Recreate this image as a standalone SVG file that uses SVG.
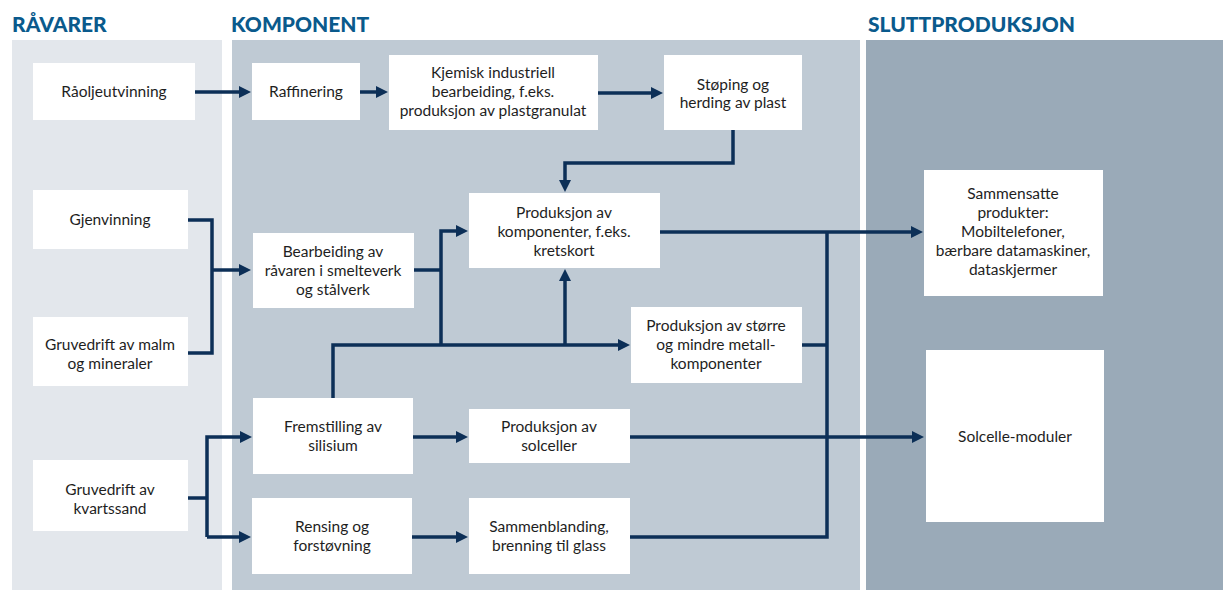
<svg xmlns="http://www.w3.org/2000/svg" width="1223" height="590" viewBox="0 0 1223 590">
<style>
.hdr{font-family:Lato,"Open Sans",sans-serif;font-weight:900;font-size:21px;fill:#0a5a8c}
.box{fill:#ffffff}
.t{font-family:Lato,"Liberation Sans",sans-serif;font-size:15.5px;fill:#1e1e1e;text-anchor:middle}
.c{fill:none;stroke:#0c2f57;stroke-width:3.5;stroke-linejoin:miter}
</style>
<defs>
<marker id="arr" markerUnits="userSpaceOnUse" markerWidth="12" markerHeight="12" refX="8" refY="6" orient="auto">
<path d="M0,0 L12,6 L0,12 z" fill="#0c2f57"/>
</marker>
</defs>
<rect width="1223" height="590" fill="#ffffff"/>
<g id="panels">
<rect x="12" y="40" width="210" height="550" fill="#e3e7ec"/>
<rect x="232" y="40" width="628" height="550" fill="#bfcad4"/>
<rect x="866" y="40" width="357" height="550" fill="#9aaab8"/>
<text class="hdr" x="12" y="32">RÅVARER</text>
<text class="hdr" x="231" y="32">KOMPONENT</text>
<text class="hdr" x="868" y="32">SLUTTPRODUKSJON</text>
</g>
<g id="connectors">
<path class="c" d="M195,92 H247" marker-end="url(#arr)"/>
<path class="c" d="M360,92 H384" marker-end="url(#arr)"/>
<path class="c" d="M598,93 H659" marker-end="url(#arr)"/>
<path class="c" d="M733,130 V163 H565 V188" marker-end="url(#arr)"/>
<path class="c" d="M188,220 H212 V353 H188"/>
<path class="c" d="M212,270 H247" marker-end="url(#arr)"/>
<path class="c" d="M413,270 H441"/>
<path class="c" d="M441,345 V231 H464" marker-end="url(#arr)"/>
<path class="c" d="M333,398 V345 H626" marker-end="url(#arr)"/>
<path class="c" d="M565,345 V273" marker-end="url(#arr)"/>
<path class="c" d="M660,232 H919" marker-end="url(#arr)"/>
<path class="c" d="M802,345 H827"/>
<path class="c" d="M827,232 V537 H630"/>
<path class="c" d="M630,437 H920" marker-end="url(#arr)"/>
<path class="c" d="M188,498 H207"/>
<path class="c" d="M207,537 V437 H248" marker-end="url(#arr)"/>
<path class="c" d="M207,537 H247" marker-end="url(#arr)"/>
<path class="c" d="M413,437 H464" marker-end="url(#arr)"/>
<path class="c" d="M412,537 H464" marker-end="url(#arr)"/>
</g>
<g id="n-raolje"><rect class="box" x="33" y="63" width="162" height="57"/><text class="t" x="114" y="97">Råoljeutvinning</text></g>
<g id="n-gjenvinning"><rect class="box" x="33" y="190" width="155" height="59"/><text class="t" x="110" y="225">Gjenvinning</text></g>
<g id="n-gruvemalm"><rect class="box" x="33" y="317" width="155" height="69"/><text class="t" x="110" y="350">Gruvedrift av malm</text><text class="t" x="110" y="369">og mineraler</text></g>
<g id="n-kvartssand"><rect class="box" x="33" y="460" width="155" height="71"/><text class="t" x="110" y="495">Gruvedrift av</text><text class="t" x="110" y="514">kvartssand</text></g>
<g id="n-raffinering"><rect class="box" x="252" y="63" width="108" height="57"/><text class="t" x="306" y="97">Raffinering</text></g>
<g id="n-kjemisk"><rect class="box" x="389" y="55" width="209" height="75"/><text class="t" x="493" y="78">Kjemisk industriell</text><text class="t" x="493" y="97">bearbeiding, f.eks.</text><text class="t" x="493" y="116">produksjon av plastgranulat</text></g>
<g id="n-stoping"><rect class="box" x="664" y="55" width="138" height="75"/><text class="t" x="733" y="90">Støping og</text><text class="t" x="733" y="108">herding av plast</text></g>
<g id="n-komponenter"><rect class="box" x="469" y="193" width="191" height="75"/><text class="t" x="564" y="218">Produksjon av</text><text class="t" x="564" y="237">komponenter, f.eks.</text><text class="t" x="564" y="256">kretskort</text></g>
<g id="n-bearbeiding"><rect class="box" x="253" y="233" width="161" height="75"/><text class="t" x="333" y="257">Bearbeiding av</text><text class="t" x="333" y="276">råvaren i smelteverk</text><text class="t" x="333" y="295">og stålverk</text></g>
<g id="n-metall"><rect class="box" x="631" y="307" width="171" height="76"/><text class="t" x="716" y="331">Produksjon av større</text><text class="t" x="716" y="350">og mindre metall-</text><text class="t" x="716" y="369">komponenter</text></g>
<g id="n-silisium"><rect class="box" x="253" y="398" width="160" height="76"/><text class="t" x="333" y="432">Fremstilling av</text><text class="t" x="333" y="451">silisium</text></g>
<g id="n-solceller"><rect class="box" x="469" y="409" width="161" height="54"/><text class="t" x="549" y="432">Produksjon av</text><text class="t" x="549" y="451">solceller</text></g>
<g id="n-rensing"><rect class="box" x="252" y="498" width="160" height="76"/><text class="t" x="332" y="532">Rensing og</text><text class="t" x="332" y="551">forstøvning</text></g>
<g id="n-sammenblanding"><rect class="box" x="469" y="498" width="161" height="76"/><text class="t" x="549" y="532">Sammenblanding,</text><text class="t" x="549" y="551">brenning til glass</text></g>
<g id="n-sammensatte"><rect class="box" x="924" y="170" width="179" height="126"/><text class="t" x="1013" y="199">Sammensatte</text><text class="t" x="1013" y="218">produkter:</text><text class="t" x="1013" y="237">Mobiltelefoner,</text><text class="t" x="1013" y="256">bærbare datamaskiner,</text><text class="t" x="1013" y="275">dataskjermer</text></g>
<g id="n-solcellemoduler"><rect class="box" x="926" y="350" width="178" height="172"/><text class="t" x="1015" y="442">Solcelle-moduler</text></g>
</svg>
